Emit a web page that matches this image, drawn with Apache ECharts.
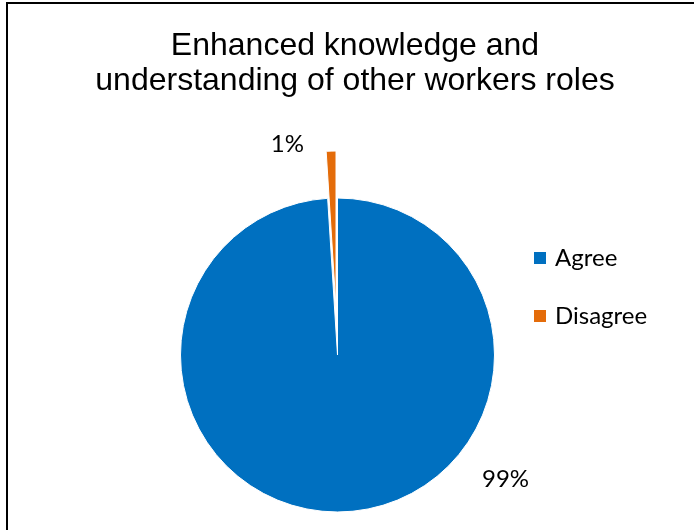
<!DOCTYPE html>
<html>
<head>
<meta charset="utf-8">
<style>
  html, body { margin: 0; padding: 0; background: #ffffff; }
  #chart { width: 694px; height: 530px; }
</style>
<script src="https://cdn.jsdelivr.net/npm/echarts@6/dist/echarts.min.js"></script>
</head>
<body>
<div id="chart"></div>
<script>
// Survey responses, in percent
const categories = ['Agree', 'Disagree'];
const shares = [99, 1];
const sliceColors = ['#0070C0', '#E46C0A'];

// The large slice's percentage sits to its lower right, offset from the pie centre (px)
const agreeLabelOffset = [168, 124];

const pieCenter = [337.5, 355];
const pieRadius = 157;

const chart = echarts.init(document.getElementById('chart'), null, { renderer: 'canvas' });

chart.setOption({
  animation: false,
  backgroundColor: '#ffffff',
  graphic: [{
    type: 'rect',
    shape: { x: 7, y: 3, width: 720, height: 560 },
    style: { fill: 'none', stroke: '#000000', lineWidth: 2 },
    silent: true,
    z: 100
  }],
  title: {
    text: 'Enhanced knowledge and\nunderstanding of other workers roles',
    left: 350,
    textAlign: 'center',
    top: 24,
    padding: 5,
    textStyle: {
      fontFamily: 'Liberation Sans',
      fontSize: 32,
      fontWeight: 'normal',
      lineHeight: 35,
      color: '#000000'
    }
  },
  legend: {
    orient: 'vertical',
    left: 527,
    top: 241,
    itemWidth: 14,
    itemHeight: 14,
    itemGap: 34,
    icon: 'rect',
    selectedMode: false,
    data: categories,
    textStyle: {
      fontFamily: 'Lato',
      fontSize: 24,
      lineHeight: 24,
      color: '#000000',
      padding: [0, 0, 0, 3]
    }
  },
  series: [{
    type: 'pie',
    center: pieCenter,
    radius: pieRadius,
    startAngle: 90,
    clockwise: true,
    selectedMode: 'single',
    selectedOffset: 47,
    emphasis: { disabled: true },
    itemStyle: { borderColor: '#ffffff', borderWidth: 1 },
    label: {
      show: true,
      position: 'outside',
      formatter: '{c}%',
      fontFamily: 'Lato',
      fontSize: 24,
      color: '#000000'
    },
    labelLine: { show: false },
    labelLayout: function (params) {
      if (params.dataIndex !== 0) {
        return null;
      }
      return {
        x: pieCenter[0] + agreeLabelOffset[0],
        y: pieCenter[1] + agreeLabelOffset[1],
        align: 'center',
        verticalAlign: 'middle'
      };
    },
    data: categories.map(function (name, i) {
      const item = {
        name: name,
        value: shares[i],
        itemStyle: { color: sliceColors[i] }
      };
      if (name === 'Disagree') {
        // pulled-out slice; its label hangs up and to the left of the tip
        item.selected = true;
        item.labelLine = { show: false, length: 7, length2: 22 };
      }
      return item;
    })
  }]
});
</script>
</body>
</html>
